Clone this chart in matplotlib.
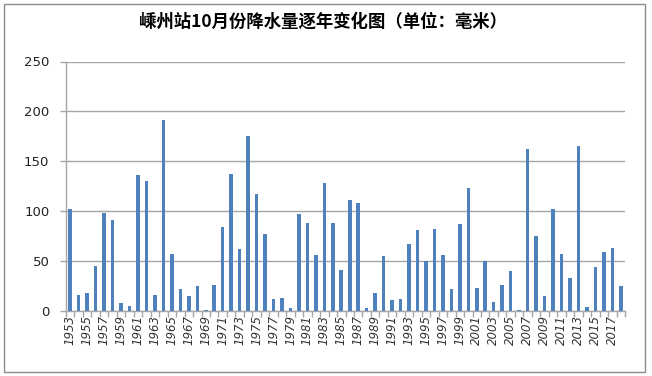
import matplotlib
matplotlib.use("Agg")
import matplotlib.pyplot as plt
from matplotlib.patches import Rectangle

plt.rcParams['font.family'] = ['Noto Sans CJK SC', 'DejaVu Sans']

# 嵊州站 10月份降水量 (毫米), 1953-2018
years = list(range(1953, 2019))
rain = [102, 16, 18, 45, 98, 91, 8, 5, 136, 130,
        16, 191, 57, 22, 15, 25, 1, 26, 84, 137,
        62, 175, 117, 77, 12, 13, 3, 97, 88, 56,
        128, 88, 41, 111, 108, 3, 18, 55, 11, 12,
        67, 81, 50, 82, 56, 22, 87, 123, 23, 50,
        9, 26, 40, 1, 162, 75, 15, 102, 57, 33,
        165, 4, 44, 59, 63, 25]
xlabels = [str(y) if (y - 1953) % 2 == 0 else "" for y in years]

fig = plt.figure(figsize=(6.52, 3.76), dpi=100)
ax = fig.add_axes([66 / 652, 1 - 310.5 / 376, (625 - 66) / 652, (310.5 - 61.5) / 376])

x = list(range(len(years)))
ax.bar(x, rain, width=0.42, color='#4F81BD', zorder=3)

ax.set_xlim(-0.5, len(years) - 0.5)
ax.set_ylim(0, 250)
ax.set_yticks([0, 50, 100, 150, 200, 250])
ax.yaxis.grid(True, color='#a6a6a6', linewidth=1, zorder=0)

ax.set_xticks(x)
ax.set_xticklabels(xlabels, rotation=90, fontsize=8.5, family='DejaVu Sans',
                   fontstyle='italic', color='#333333')
ax.tick_params(axis='x', length=0, pad=3)
ax.set_xticks([i - 0.5 for i in range(len(years) + 1)], minor=True)
ax.tick_params(axis='x', which='minor', length=4, color='#a6a6a6', width=1)
ax.tick_params(axis='y', length=4, color='#a6a6a6', width=1, labelsize=9.5,
               pad=8, labelcolor='#222222')
for lab in ax.get_yticklabels():
    lab.set_family('DejaVu Sans')

for s in ['top', 'right']:
    ax.spines[s].set_visible(False)
for s in ['left', 'bottom']:
    ax.spines[s].set_color('#a6a6a6')
    ax.spines[s].set_linewidth(1)

fig.text(0.496, 1 - 22 / 376, "嵊州站10月份降水量逐年变化图（单位：毫米）",
         ha='center', va='center', fontsize=12.5, fontweight='bold',
         family=['Noto Sans CJK SC', 'DejaVu Sans'])

fig.patches.append(Rectangle((4 / 652, 1 - 372 / 376), 641 / 652, 368 / 376,
                             transform=fig.transFigure, fill=False,
                             edgecolor='#8c8c8c', linewidth=1))

fig.savefig("out.png", dpi=100)
